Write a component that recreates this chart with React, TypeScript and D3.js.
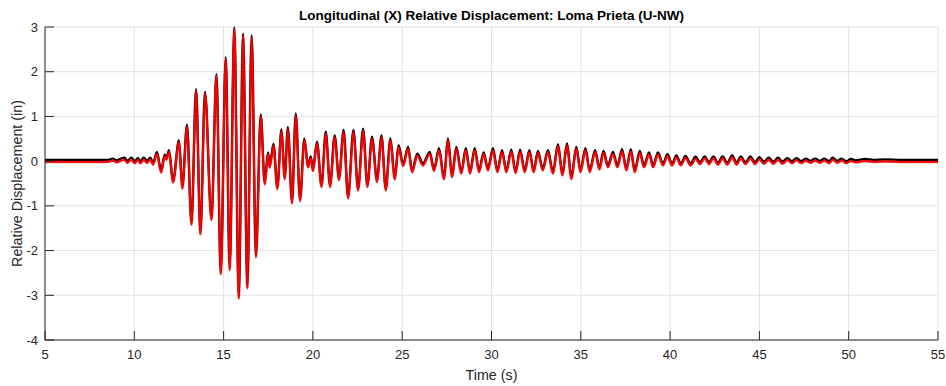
import React from "react";
import * as d3 from "d3";

// Time (s) and relative displacement (in) at the extremes
const timeS: number[] = [
  5.0, 8.5, 8.8, 9.0, 9.2, 9.46, 9.6, 9.84, 10.02, 10.2, 10.34, 10.53, 10.71, 10.9,
  11.05, 11.27, 11.5, 11.7, 11.8, 11.94, 12.17, 12.5, 12.69, 12.95, 13.2, 13.46, 13.7,
  13.96, 14.32, 14.6, 14.84, 15.12, 15.34, 15.6, 15.85, 16.09, 16.33, 16.57, 16.81,
  17.08, 17.3, 17.49, 17.58, 17.79, 18.01, 18.24, 18.42, 18.6, 18.83, 19.04, 19.28,
  19.52, 19.73, 19.88, 20.0, 20.23, 20.48, 20.72, 20.96, 21.22, 21.46, 21.72, 21.97,
  22.27, 22.53, 22.81, 23.05, 23.31, 23.59, 23.84, 24.08, 24.34, 24.58, 24.8, 25.05,
  25.33, 25.55, 25.85, 26.16, 26.54, 26.78, 27.06, 27.34, 27.56, 27.79, 28.03, 28.31,
  28.56, 28.8, 29.06, 29.3, 29.56, 29.8, 30.08, 30.33, 30.59, 30.83, 31.11, 31.35,
  31.6, 31.86, 32.12, 32.36, 32.6, 32.87, 33.16, 33.44, 33.72, 33.97, 34.23, 34.47,
  34.75, 34.98, 35.26, 35.5, 35.8, 36.04, 36.27, 36.52, 36.8, 37.05, 37.31, 37.55,
  37.8, 38.02, 38.3, 38.54, 38.82, 39.05, 39.32, 39.6, 39.85, 40.11, 40.35, 40.6,
  40.86, 41.15, 41.42, 41.67, 41.94, 42.18, 42.42, 42.68, 42.94, 43.2, 43.48, 43.72,
  43.96, 44.22, 44.5, 44.75, 45.0, 45.25, 45.52, 45.78, 46.04, 46.3, 46.56, 46.82,
  47.08, 47.34, 47.6, 47.86, 48.12, 48.38, 48.64, 48.9, 49.1, 49.36, 49.6, 49.86,
  50.12, 50.4, 50.9, 51.4, 52.0, 53.0, 55.0,
];

const dispIn: number[] = [
  0, 0, 0.03, -0.01, 0.02, 0.05, -0.02, 0.05, -0.03, 0.04, -0.03, 0.05, -0.02, 0.05,
  -0.06, 0.18, -0.24, 0.12, 0.05, 0.22, -0.46, 0.44, -0.6, 0.79, -1.41, 1.58, -1.62,
  1.52, -1.3, 1.92, -2.51, 2.3, -2.42, 2.97, -3.06, 2.83, -2.83, 2.79, -2.13,
  1.02, -0.5, 0.17, -0.13, 0.36, -0.61, 0.69, -0.39, 0.73, -0.93, 1.04, -0.88,
  0.48, -0.12, 0.08, -0.2, 0.41, -0.56, 0.63, -0.56, 0.55, -0.41, 0.67, -0.82,
  0.67, -0.64, 0.7, -0.56, 0.52, -0.45, 0.55, -0.64, 0.48, -0.39, 0.33, -0.09,
  0.29, -0.23, 0.14, -0.08, 0.18, -0.2, 0.26, -0.39, 0.48, -0.34, 0.29, -0.26,
  0.26, -0.26, 0.26, -0.23, 0.17, -0.19, 0.26, -0.23, 0.22, -0.23, 0.23, -0.25,
  0.23, -0.23, 0.22, -0.23, 0.2, -0.19, 0.22, -0.26, 0.35, -0.3, 0.37, -0.38,
  0.29, -0.23, 0.26, -0.23, 0.22, -0.17, 0.2, -0.12, 0.18, -0.12, 0.24, -0.19,
  0.24, -0.23, 0.2, -0.12, 0.17, -0.12, 0.17, -0.08, 0.13, -0.08, 0.1, -0.08,
  0.09, -0.08, 0.07, -0.05, 0.08, -0.05, 0.08, -0.06, 0.08, -0.06, 0.1, -0.06,
  0.08, -0.05, 0.08, -0.05, 0.06, -0.04, 0.05, -0.04, 0.05, -0.04, 0.04, -0.03,
  0.04, -0.03, 0.03, -0.02, 0.03, -0.02, 0.03, -0.03, 0.05, -0.02, 0.03, -0.03,
  0.02, -0.01, 0.02, 0.0, 0.01, 0.0, 0.0,
];

const xTicks: number[] = [5, 10, 15, 20, 25, 30, 35, 40, 45, 50, 55];
const yTicks: number[] = [-4, -3, -2, -1, 0, 1, 2, 3];

const titleText = "Longitudinal (X) Relative Displacement: Loma Prieta (U-NW)";
const xLabel = "Time (s)";
const yLabel = "Relative Displacement (in)";

const W = 946;
const H = 386;
const M = { left: 45, right: 938, top: 27, bottom: 340 };
const FONT = "'Liberation Sans', Arial, Helvetica, sans-serif";
const AX = "#262626";

export default function App() {
  const x = d3.scaleLinear().domain([5, 55]).range([M.left, M.right]);
  const y = d3.scaleLinear().domain([-4, 3]).range([M.bottom, M.top]);
  const pts: [number, number][] = timeS.map((t, i) => [t, dispIn[i]]);
  const line = d3
    .line<[number, number]>()
    .x((d) => x(d[0]))
    .y((d) => y(d[1]))
    .curve(d3.curveMonotoneX);
  const path = line(pts) || "";

  return (
    <svg
      width={W}
      height={H}
      style={{ position: "absolute", left: 0, top: 0, display: "block", background: "#fff" }}
      fontFamily={FONT}
    >
      <rect x={0} y={0} width={W} height={H} fill="#fff" />
      {/* grid */}
      {xTicks.map((t) => (
        <line key={"gx" + t} x1={x(t)} x2={x(t)} y1={M.top} y2={M.bottom} stroke="#e3e3e3" strokeWidth={1} />
      ))}
      {yTicks.map((t) => (
        <line key={"gy" + t} x1={M.left} x2={M.right} y1={y(t)} y2={y(t)} stroke="#e3e3e3" strokeWidth={1} />
      ))}
      {/* data */}
      <clipPath id="plotclip">
        <rect x={M.left} y={M.top - 2} width={M.right - M.left} height={M.bottom - M.top + 2} />
      </clipPath>
      <g clipPath="url(#plotclip)">
        <path d={path} fill="none" stroke="#000" strokeWidth={2.2} transform="translate(0,-1.3)" strokeLinejoin="round" />
        <path d={path} fill="none" stroke="#b00000" strokeWidth={2.6} transform="translate(0,0.7)" strokeLinejoin="round" opacity={0.6} />
        <path d={path} fill="none" stroke="#ff0000" strokeWidth={1.8} transform="translate(0,0.7)" strokeLinejoin="round" />
      </g>
      {/* axes */}
      <line x1={M.left} x2={M.right} y1={M.bottom} y2={M.bottom} stroke={AX} strokeWidth={1} />
      <line x1={M.left} x2={M.left} y1={M.top} y2={M.bottom} stroke={AX} strokeWidth={1} />
      {xTicks.map((t) => (
        <g key={"tx" + t}>
          <line x1={x(t)} x2={x(t)} y1={M.bottom} y2={M.bottom - 9} stroke={AX} strokeWidth={1} />
          <text x={x(t)} y={359} textAnchor="middle" fontSize={13} fill={AX}>
            {t}
          </text>
        </g>
      ))}
      {yTicks.map((t) => (
        <g key={"ty" + t}>
          <line x1={M.left} x2={M.left + 9} y1={y(t)} y2={y(t)} stroke={AX} strokeWidth={1} />
          <text x={38} y={y(t) + 4.5} textAnchor="end" fontSize={13} fill={AX}>
            {t}
          </text>
        </g>
      ))}
      <text x={(M.left + M.right) / 2} y={20} textAnchor="middle" fontSize={13.5} fontWeight="bold" fill="#000">
        {titleText}
      </text>
      <text x={(M.left + M.right) / 2} y={380} textAnchor="middle" fontSize={14.3} fill={AX}>
        {xLabel}
      </text>
      <text
        transform={`translate(22,${(M.top + M.bottom) / 2}) rotate(-90)`}
        textAnchor="middle"
        fontSize={14.3}
        fill={AX}
      >
        {yLabel}
      </text>
    </svg>
  );
}
